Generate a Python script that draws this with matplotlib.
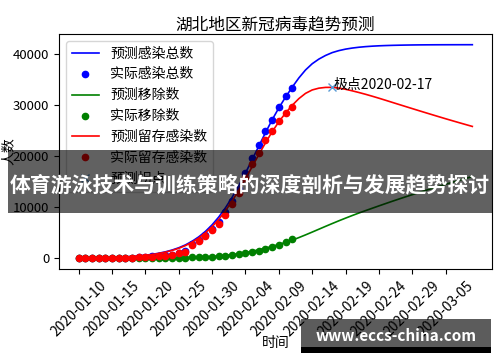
import pandas as pd
import matplotlib.pyplot as plt
from matplotlib.patches import Rectangle

plt.rcParams['font.family'] = ['Noto Sans CJK SC', 'DejaVu Sans']
plt.rcParams['axes.unicode_minus'] = False

# actual data (Hubei, from 2020-01-10, one value per day)
actual_total = [41, 41, 41, 41, 41, 41, 45, 62, 121, 198, 270, 375, 444, 549, 729, 1052,
                1423, 2714, 3554, 4586, 5806, 7153, 9074, 11177, 13522, 16678, 19665,
                22112, 24953, 27100, 29631, 31728, 33366]
actual_removed = [3, 7, 7, 8, 8, 14, 14, 17, 20, 28, 31, 34, 45, 55, 63, 75, 120, 176, 208,
                  262, 294, 415, 509, 645, 810, 999, 1182, 1435, 1814, 2219, 2666, 3196, 3707]
actual_active = [38, 34, 34, 33, 33, 27, 31, 45, 101, 170, 239, 341, 399, 494, 666, 977,
                 1303, 2538, 3346, 4324, 5512, 6738, 8565, 10532, 12712, 15679, 18483,
                 20677, 23139, 24881, 26965, 28532, 29659]

# model prediction (from 2020-01-10, one value per day)
pred_total = [47, 61, 79, 101, 131, 169, 218, 281, 361, 464, 597, 768, 986, 1263, 1614,
              2059, 2620, 3328, 4197, 5264, 6552, 8085, 9881, 11929, 14213, 16693, 19307,
              21965, 24588, 27108, 29437, 31535, 33485, 35300, 36860, 38080, 38990, 39700,
              40260, 40650, 40940, 41150, 41310, 41430, 41520, 41590, 41640, 41680, 41710,
              41735, 41755, 41770, 41780, 41788, 41794, 41798, 41801, 41803, 41805, 41806]
pred_removed = [0, 1, 2, 3, 4, 6, 9, 12, 16, 22, 29, 38, 49, 64, 83, 107, 138, 177, 227,
                290, 369, 467, 580, 720, 900, 1120, 1380, 1670, 1990, 2340, 2720, 3120,
                3550, 4050, 4580, 5130, 5690, 6250, 6800, 7340, 7860, 8370, 8860, 9330,
                9795, 10255, 10710, 11160, 11600, 12030, 12455, 12875, 13285, 13690,
                14090, 14485, 14870, 15250, 15625, 15995]
pred_active = [47, 60, 77, 98, 127, 163, 209, 269, 345, 442, 568, 730, 937, 1199, 1531,
               1952, 2482, 3151, 3970, 4974, 6183, 7618, 9301, 11209, 13313, 15573, 17927,
               20295, 22598, 24768, 26717, 28415, 29935, 31250, 32280, 32950, 33300, 33450,
               33460, 33310, 33080, 32780, 32450, 32100, 31725, 31335, 30930, 30520, 30110,
               29705, 29300, 28895, 28495, 28098, 27704, 27313, 26931, 26553, 26180, 25811]

actual_dates = pd.date_range("2020-01-10", periods=len(actual_total))
pred_dates = pd.date_range("2020-01-10", periods=len(pred_total))

peak = pd.Series(pred_active, index=pred_dates).idxmax()
peak_value = max(pred_active)

fig = plt.figure(figsize=(5, 3.62), dpi=100)
ax = fig.add_axes([0.118, 0.257, 0.866, 0.649])

lw = 1.2
ax.plot(pred_dates, pred_total, 'b-', lw=lw, label='预测感染总数')
ax.plot(actual_dates, actual_total, 'bo', markersize=4.5, label='实际感染总数')
ax.plot(pred_dates, pred_removed, 'g-', lw=lw, label='预测移除数')
ax.plot(actual_dates, actual_removed, 'go', markersize=4.5, label='实际移除数')
ax.plot(pred_dates, pred_active, 'r-', lw=lw, label='预测留存感染数')
ax.plot(actual_dates, actual_active, 'ro', markersize=4.5, label='实际留存感染数')
ax.plot([peak], [peak_value], 'x', color='#5b9bd5', label='预测拐点')
ax.annotate('极点' + peak.strftime('%Y-%m-%d'), (peak, peak_value), xytext=(1, -1),
            textcoords='offset points', fontsize=10, ha='left', va='baseline')

ticks = pred_dates[::5]
ax.set_xticks(ticks)
ax.set_xticklabels([d.strftime('%Y-%m-%d') for d in ticks], rotation=45, fontsize=10)
ax.tick_params(axis='y', labelsize=9.5)
ax.set_title('湖北地区新冠病毒趋势预测', fontsize=12, pad=3)
ax.set_xlabel('时间', fontsize=10)
ax.set_ylabel('人数', fontsize=10)
ax.xaxis.set_label_coords(0.5, -0.285)
ax.yaxis.set_label_coords(-0.1, 0.5)
ax.legend(loc='upper left', fontsize=10)

# banner and watermark over the picture
fig.add_artist(Rectangle((0.016, 0.4116), 0.968, 0.174, transform=fig.transFigure,
                         facecolor='black', alpha=0.62, edgecolor='none', zorder=5))
fig.text(0.5, 0.489, '体育游泳技术与训练策略的深度剖析与发展趋势探讨', color='white',
         fontsize=15, fontweight='bold', ha='center', va='center', zorder=6)
fig.add_artist(Rectangle((0.602, 0.0414), 0.38, 0.077, transform=fig.transFigure,
                         facecolor='black', alpha=0.64, edgecolor='none', zorder=5))
fig.add_artist(Rectangle((0.602, 0.025), 0.38, 0.017, transform=fig.transFigure,
                         facecolor='black', edgecolor='none', zorder=5))
fig.text(0.792, 0.073, 'www.eccs-china.com', color='white', fontsize=11,
         fontweight='bold', ha='center', va='center', zorder=6)

fig.savefig('out.png')
